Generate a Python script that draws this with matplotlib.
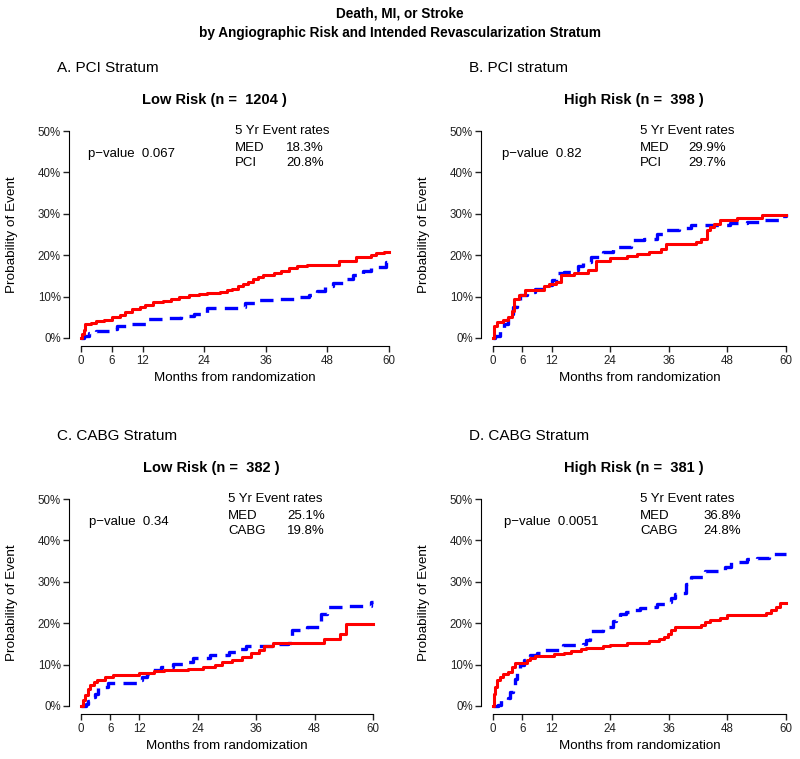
import numpy as np
import matplotlib.pyplot as plt

plt.rcParams['font.family'] = ['Liberation Sans', 'DejaVu Sans']

# Panel A: PCI stratum, low risk
a_pci_t = [0, 0.2, 0.5, 0.8, 2, 3, 4.5, 6, 7.5, 8.5, 10, 11.5, 12.5, 14, 16, 17.5, 19, 21, 23, 24.5, 27, 28.5, 29.5, 30.5, 31.5, 32.5, 33.5, 34.5, 35.5, 37.5, 39, 40.5, 42, 44, 50.3, 53.5, 56.5, 57.5, 59, 60]
a_pci_v = [0, 1.0, 2.0, 3.3, 3.6, 4.0, 4.4, 5.0, 5.5, 6.3, 6.9, 7.5, 7.9, 8.7, 9.0, 9.4, 10.0, 10.3, 10.6, 10.9, 11.2, 11.5, 11.9, 12.5, 13.0, 13.5, 14.2, 14.8, 15.3, 15.7, 16.3, 17.0, 17.4, 17.7, 18.6, 19.5, 20.0, 20.5, 20.8, 20.8]
a_med_t = [0, 0.5, 1.5, 3, 5.5, 7, 10, 13, 17, 19.5, 22, 24.5, 31, 32, 34.5, 38, 42, 44.5, 46, 47.5, 49, 51, 53, 55, 56.5, 59.5, 60]
a_med_v = [0, 0.6, 1.2, 1.7, 2.2, 2.8, 3.5, 4.5, 4.8, 5.2, 5.8, 7.3, 7.6, 8.4, 9.1, 9.3, 9.8, 10.3, 11.3, 12.5, 13.3, 14.3, 15.1, 16.2, 17.2, 18.3, 18.3]

# Panel B: PCI stratum, high risk
b_pci_t = [0, 0.2, 0.8, 2, 3, 3.8, 4.3, 5.3, 6.5, 10.5, 11.5, 13, 14, 16.5, 19.5, 21, 24, 27.5, 29.5, 32, 34.5, 35.5, 41.5, 42.5, 43.8, 44.5, 45.3, 46.5, 47.5, 50, 55, 60]
b_pci_v = [0, 3.0, 3.9, 4.3, 5.0, 6.5, 9.3, 10.5, 11.5, 12.5, 13.0, 13.6, 15.2, 15.8, 16.4, 18.6, 19.3, 19.9, 20.3, 20.8, 21.6, 22.8, 23.3, 24.0, 26.0, 26.8, 27.5, 28.5, 28.5, 29.1, 29.7, 29.7]
b_med_t = [0, 0.5, 1.5, 2.3, 3.0, 4.0, 5.0, 5.5, 7.0, 8.5, 10.5, 12.0, 13.0, 14.5, 16.5, 17.5, 18.5, 20.0, 22.5, 24.5, 28.2, 31.0, 33.5, 35.0, 38.0, 40.5, 48.5, 52.0, 54.5, 58.5, 60]
b_med_v = [0, 0.6, 2.5, 3.5, 5.9, 7.5, 8.5, 10.3, 11.0, 11.9, 12.7, 14.0, 15.6, 16.0, 16.4, 17.5, 18.4, 19.6, 20.8, 22.0, 23.6, 24.0, 25.2, 26.2, 26.5, 27.3, 27.7, 28.0, 28.5, 29.5, 29.9]

# Panel C: CABG stratum, low risk
c_cabg_t = [0, 0.5, 0.9, 1.4, 1.9, 2.6, 3.3, 5.0, 6.5, 12.0, 15.0, 17.0, 22.0, 25.0, 27.5, 29.0, 31.0, 33.0, 35.0, 36.5, 37.5, 39.5, 50.0, 53.2, 54.5, 60]
c_cabg_v = [0, 1.5, 2.6, 4.0, 5.0, 5.8, 6.2, 6.9, 7.4, 8.0, 8.4, 8.6, 9.0, 9.4, 10.0, 10.6, 11.2, 11.9, 12.7, 13.5, 14.5, 15.2, 16.3, 17.5, 19.8, 19.8]
c_med_t = [0, 1.0, 1.5, 2.2, 2.8, 3.5, 5.5, 11.5, 12.5, 13.5, 14.5, 16.5, 19.0, 21.0, 23.0, 26.5, 30.5, 32.5, 34.0, 40.5, 42.5, 43.3, 46.5, 49.4, 50.5, 54.0, 59.5, 60]
c_med_v = [0, 0.5, 1.2, 2.2, 3.0, 4.6, 5.6, 6.4, 7.0, 7.8, 8.6, 9.4, 10.2, 10.6, 11.6, 12.4, 13.0, 13.8, 14.4, 14.9, 15.1, 18.3, 19.1, 22.3, 23.8, 24.2, 25.1, 25.1]

# Panel D: CABG stratum, high risk
d_cabg_t = [0, 0.2, 0.5, 0.8, 1.4, 2.0, 3.0, 3.8, 4.6, 7.0, 7.5, 8.5, 12.5, 14.5, 16.0, 18.0, 19.0, 22.5, 24.0, 27.5, 30.5, 32.0, 34.0, 35.0, 35.8, 36.5, 37.2, 42.5, 43.5, 44.5, 46.5, 48.0, 56.0, 57.0, 58.0, 58.7, 60]
d_cabg_v = [0, 3.0, 4.5, 6.2, 7.0, 7.7, 8.2, 9.3, 10.4, 11.0, 11.5, 12.1, 12.5, 12.7, 13.3, 13.7, 14.1, 14.4, 14.7, 15.1, 15.2, 15.7, 16.2, 16.7, 17.5, 18.3, 19.0, 19.6, 20.4, 20.7, 21.3, 21.9, 22.5, 23.3, 24.0, 24.8, 24.8]
d_med_t = [0, 1.0, 1.7, 3.0, 3.5, 4.0, 4.5, 5.0, 5.5, 6.3, 7.5, 9.0, 10.0, 13.7, 14.3, 18.5, 19.0, 19.8, 22.5, 23.5, 24.5, 25.2, 26.0, 27.3, 28.5, 30.0, 32.5, 33.5, 35.5, 36.5, 37.3, 38.8, 39.5, 40.5, 43.5, 47.5, 48.8, 52.0, 54.0, 56.5, 60]
d_med_v = [0, 0.3, 1.5, 2.0, 3.4, 5.0, 6.5, 8.0, 9.8, 11.0, 12.2, 12.8, 13.6, 14.0, 14.7, 15.0, 15.9, 18.2, 18.5, 19.0, 20.5, 21.6, 22.3, 22.7, 23.2, 23.6, 24.0, 24.6, 25.2, 26.2, 27.0, 27.3, 29.5, 31.2, 32.5, 33.6, 34.8, 35.4, 35.8, 36.8, 36.8]

W, H = 800, 759
fig = plt.figure(figsize=(W / 100, H / 100), dpi=100)


def ftext(x, y, s, **kw):
    fig.text(x / W, 1 - y / H, s, **kw)


ftext(400, 14, 'Death, MI, or Stroke', ha='center', va='center', fontsize=9.8, fontweight='bold')
ftext(400, 33, 'by Angiographic Risk and Intended Revascularization Stratum', ha='center', va='center',
      fontsize=9.8, fontweight='bold')

panels = [
    # left px, right px, top px, bottom px, label, subtitle, p-value, trt name, med rate, trt rate, data
    (81, 389, 131, 338, 'A. PCI Stratum', 'Low Risk (n =  1204 )', '0.067', 'PCI', '18.3%', '20.8%',
     (a_med_t, a_med_v, a_pci_t, a_pci_v), 88, 235, 286, 214),
    (493, 786, 131, 338, 'B. PCI stratum', 'High Risk (n =  398 )', '0.82', 'PCI', '29.9%', '29.7%',
     (b_med_t, b_med_v, b_pci_t, b_pci_v), 502, 640, 688, 634),
    (81, 373, 499, 706, 'C. CABG Stratum', 'Low Risk (n =  382 )', '0.34', 'CABG', '25.1%', '19.8%',
     (c_med_t, c_med_v, c_cabg_t, c_cabg_v), 89, 228, 287, 211),
    (493, 786, 499, 706, 'D. CABG Stratum', 'High Risk (n =  381 )', '0.0051', 'CABG', '36.8%', '24.8%',
     (d_med_t, d_med_v, d_cabg_t, d_cabg_v), 504, 640, 703, 634),
]

for (l, r, t, b, lab, sub, pval, trt, mrate, trate, data, px, rx, vx, sx) in panels:
    ax = fig.add_axes([l / W, 1 - b / H, (r - l) / W, (b - t) / H])
    med_t, med_v, trt_t, trt_v = data
    ax.plot(med_t, med_v, drawstyle='steps-post', color='#0000ff', lw=2.4,
            dashes=(4, 2.5), clip_on=False)
    ax.plot(trt_t, trt_v, drawstyle='steps-post', color='#ff0000', lw=2.2, clip_on=False)
    ax.set_xlim(0, 60)
    ax.set_ylim(0, 50)
    ax.set_xticks([0, 6, 12, 24, 36, 48, 60])
    ax.set_yticks([0, 10, 20, 30, 40, 50])
    ax.set_yticklabels(['%d%%' % v for v in [0, 10, 20, 30, 40, 50]])
    for s in ['top', 'right']:
        ax.spines[s].set_visible(False)
    ax.spines['left'].set_position(('outward', 8.6))
    ax.spines['bottom'].set_position(('outward', 6))
    ax.spines['left'].set_bounds(0, 50)
    ax.spines['bottom'].set_bounds(0, 60)
    ax.tick_params(labelsize=8.3, length=4, width=1, pad=2, colors='#222222')
    ax.patch.set_visible(False)

    ftext(l - 24, t - 63, lab, ha='left', va='center', fontsize=11)
    ftext(sx, t - 31, sub, ha='center', va='center', fontsize=10.5, fontweight='bold')
    ftext(l - 69, (t + b) / 2, 'Probability of Event', rotation=90, ha='center', va='center', fontsize=9.7)
    ftext((l + r) / 2, b + 40, 'Months from randomization', ha='center', va='center', fontsize=9.6)
    ftext(px, t + 23, 'p\u2212value  ' + pval, ha='left', va='center', fontsize=9.5)
    ftext(rx, t, '5 Yr Event rates', ha='left', va='center', fontsize=9.5)
    ftext(rx, t + 17, 'MED', ha='left', va='center', fontsize=9.5)
    ftext(rx, t + 32, trt, ha='left', va='center', fontsize=9.5)
    ftext(vx, t + 17, mrate, ha='left', va='center', fontsize=9.5)
    ftext(vx, t + 32, trate, ha='left', va='center', fontsize=9.5)

fig.savefig('out.png', dpi=100)
